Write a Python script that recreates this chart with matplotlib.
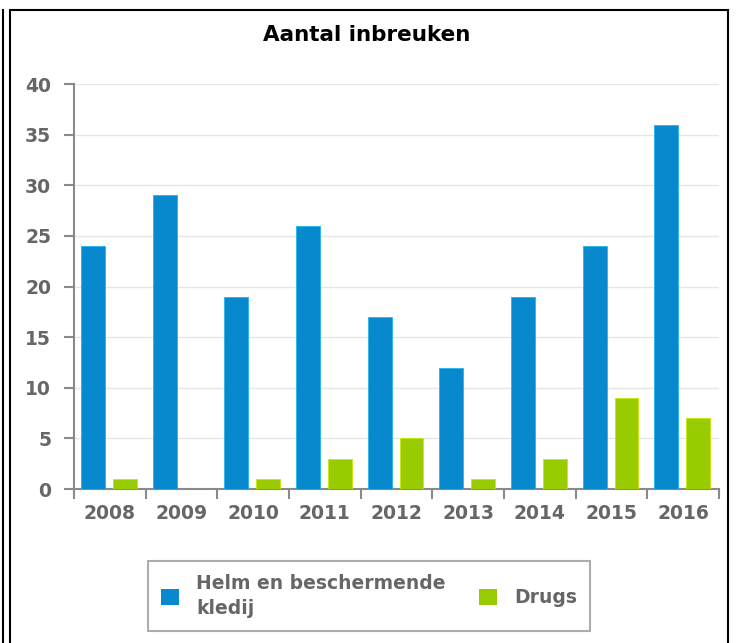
# Import libraries
import numpy as np
import matplotlib.pyplot as plt
from matplotlib.patches import Rectangle, Patch
from matplotlib.lines import Line2D

# Declare variable
years = ["2008", "2009", "2010", "2011", "2012", "2013", "2014", "2015", "2016"]
helm = [24, 29, 19, 26, 17, 12, 19, 24, 36]
drugs = [1, 0, 1, 3, 5, 1, 3, 9, 7]
series_names = ["Helm en beschermende\nkledij", "Drugs"]

BLUE = "#0889cd"
GREEN = "#99cc00"
GRAY = "#666666"
AXIS = "#8a8a8a"

# Draw figure
fig = plt.figure(figsize=(7.38, 6.43), dpi=100)
ax = fig.add_axes([0.1003, 0.2395, 0.874, 0.6298])

x = np.arange(len(years))
width = 0.333
ax.bar(x + 0.264, helm, width, color=BLUE, edgecolor="#1fb6ee", linewidth=0.6, zorder=3)
ax.bar(x + 0.708, drugs, width, color=GREEN, edgecolor="#c8e800", linewidth=0.6, zorder=3)

## Axes
ax.set_xlim(0, len(years))
ax.set_ylim(0, 40)
ax.set_yticks(range(0, 41, 5))
ax.set_xticks(x + 0.5)
ax.set_xticklabels(years)
ax.set_xticks(np.arange(len(years) + 1), minor=True)
ax.tick_params(axis="x", which="major", length=0, pad=11)
ax.tick_params(axis="x", which="minor", length=7, width=1.5, color=AXIS)
ax.tick_params(axis="y", length=7.5, width=1.5, color=AXIS, pad=9)
for lbl in ax.get_xticklabels() + ax.get_yticklabels():
    lbl.set_fontweight("bold")
    lbl.set_color(GRAY)
    lbl.set_fontsize(13.5)

for side in ["top", "right"]:
    ax.spines[side].set_visible(False)
for side in ["left", "bottom"]:
    ax.spines[side].set_color(AXIS)
    ax.spines[side].set_linewidth(1.5)
ax.grid(axis="y", color="#e6e6e6", linewidth=1, zorder=0)
ax.set_axisbelow(True)

## Title
fig.text(0.497, 0.946, "Aantal inbreuken", ha="center", va="center",
         fontsize=15.5, fontweight="bold", color="black")

## Legend
handles = [Patch(facecolor=BLUE), Patch(facecolor=GREEN)]
leg = fig.legend(handles, series_names, loc="center", bbox_to_anchor=(0.5, 0.0731),
                 ncol=2, frameon=True, fancybox=False, handlelength=0.95, handleheight=0.95,
                 columnspacing=1.8, handletextpad=0.9, borderpad=0.7, labelspacing=0.3,
                 prop={"weight": "bold", "size": 13.5})
leg.get_frame().set_edgecolor("#999999")
leg.get_frame().set_linewidth(1.5)
for t in leg.get_texts():
    t.set_color(GRAY)
    t.set_linespacing(1.35)

## Border
fig.add_artist(Rectangle((10 / 738, -0.01), 718 / 738, 1 - 10 / 643 + 0.01,
                         transform=fig.transFigure, fill=False, edgecolor="black", linewidth=1.5))
fig.add_artist(Line2D([3 / 738, 3 / 738], [0, 1 - 10 / 643], transform=fig.transFigure,
                      color="black", linewidth=1.5))

plt.savefig("out.png", dpi=100)
